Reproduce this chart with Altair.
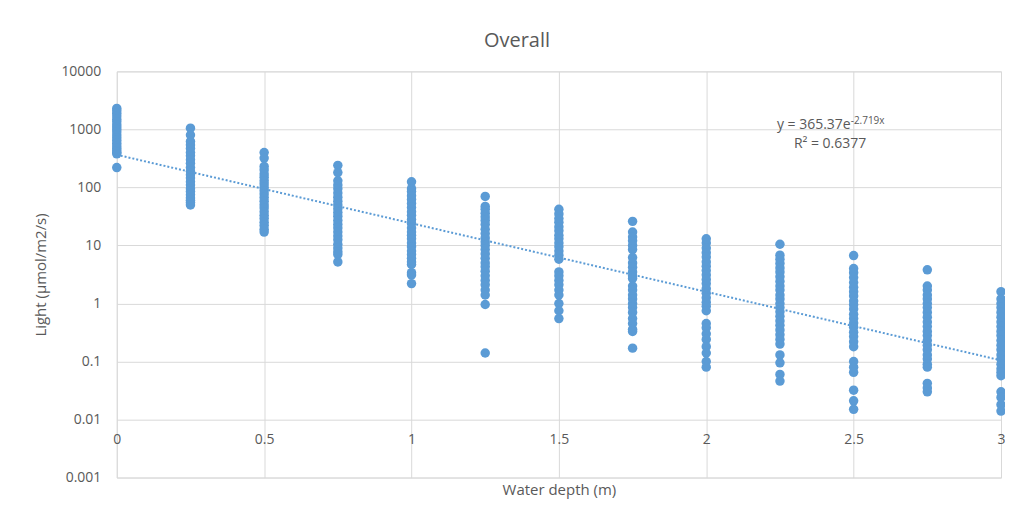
import altair as alt
import pandas as pd

# ---- data ----
depths = [0, 0.25, 0.5, 0.75, 1, 1.25, 1.5, 1.75, 2, 2.25, 2.5, 2.75, 3]

light_000 = [2300, 2100, 1900, 1700, 1500, 1350, 1200, 1100, 1000, 900, 800, 720,
             650, 580, 520, 470, 430, 400, 380, 220]
light_025 = [1050, 800, 620, 540, 470, 400, 350, 300, 260, 220, 190, 165, 145,
             125, 110, 95, 85, 75, 66, 60, 55, 50]
light_050 = [400, 320, 230, 200, 170, 150, 130, 115, 100, 88, 77, 67, 58, 50,
             44, 38, 33, 29, 25, 22, 19, 17]
light_075 = [240, 180, 130, 110, 95, 80, 68, 58, 50, 43, 37, 32, 27, 23, 20, 17,
             14.5, 12.5, 10.5, 9, 7.8, 7, 5.2]
light_100 = [125, 95, 85, 72, 62, 53, 45, 38, 33, 28, 24, 20, 17, 15, 13, 11,
             9.5, 8, 7, 6, 5.2, 4.7, 3.4, 3.1, 2.2]
light_125 = [70, 47, 42, 36, 31, 27, 23, 19, 16, 13.5, 11.5, 10, 8.5, 7.2, 6, 5,
             4.3, 3.6, 3, 2.5, 2.1, 1.7, 1.4, 0.96, 0.14]
light_150 = [42, 35, 29, 25, 21, 18, 15, 13, 11, 9.5, 8, 6.8, 5.8, 3.5, 3, 2.5,
             2.1, 1.7, 1.4, 1.0, 0.75, 0.55]
light_175 = [26, 17, 14, 12, 10, 8.5, 6.2, 5, 4.2, 3.5, 3, 2.7, 2.0, 1.7, 1.4,
             1.2, 1.0, 0.85, 0.7, 0.55, 0.45, 0.36, 0.33, 0.17]
light_200 = [13, 11, 9, 7.5, 6.3, 5.2, 4.4, 3.7, 3.1, 2.6, 2.2, 1.8, 1.5, 1.25,
             1.05, 0.9, 0.75, 0.45, 0.38, 0.3, 0.24, 0.18, 0.14, 0.1, 0.08]
light_225 = [10.5, 6.8, 5.8, 4.9, 4.1, 3.5, 2.9, 2.4, 2.0, 1.7, 1.4, 1.2, 1.0,
             0.85, 0.72, 0.6, 0.5, 0.42, 0.35, 0.29, 0.24, 0.2, 0.13, 0.095,
             0.06, 0.046]
light_250 = [6.7, 4.0, 3.4, 2.8, 2.3, 1.9, 1.6, 1.35, 1.1, 0.95, 0.8, 0.65, 0.55,
             0.46, 0.39, 0.32, 0.27, 0.22, 0.18, 0.1, 0.08, 0.065, 0.032, 0.021,
             0.015]
light_275 = [3.8, 2.0, 1.7, 1.4, 1.2, 1.0, 0.85, 0.7, 0.58, 0.48, 0.4, 0.33, 0.28,
             0.23, 0.19, 0.16, 0.13, 0.11, 0.09, 0.08, 0.042, 0.035, 0.03]
light_300 = [1.6, 1.2, 1.0, 0.85, 0.7, 0.58, 0.48, 0.4, 0.33, 0.28, 0.23, 0.19,
             0.16, 0.13, 0.11, 0.09, 0.075, 0.065, 0.057, 0.03, 0.024, 0.018,
             0.014]

series = [light_000, light_025, light_050, light_075, light_100, light_125,
          light_150, light_175, light_200, light_225, light_250, light_275,
          light_300]

x_ticks = [0, 0.5, 1, 1.5, 2, 2.5, 3]
y_ticks = [0.001, 0.01, 0.1, 1, 10, 100, 1000, 10000]

# exponential trendline shown in the chart: y = 365.37 e^(-2.719x)
TREND_A = 365.37
TREND_B = -2.719
trend_x = [0, 3]

eq_text = "y = 365.37e"
eq_sup = "-2.719x"
r2_text = "R² = 0.6377"

# ---- build tables ----
rows = []
for d, vals in zip(depths, series):
    for v in vals:
        rows.append({"depth": d, "light": v})
df = pd.DataFrame(rows)
trend_df = pd.DataFrame({"depth": trend_x})

FONT = "Liberation Sans Narrow, Open Sans, sans-serif"
BLUE = "#5B9BD5"
GRAY = "#595959"
GRID = "#D9D9D9"

x_scale = alt.Scale(domain=[0, 3], nice=False, zero=False)
y_scale = alt.Scale(type="log", domain=[0.001, 10000], nice=False)

points = alt.Chart(df).mark_circle(size=90, color=BLUE, opacity=1).encode(
    x=alt.X("depth:Q", scale=x_scale,
            axis=alt.Axis(values=x_ticks, format="~g", title="Water depth (m)",
                          grid=True, gridColor=GRID, domain=False, ticks=False,
                          labelFlush=False,
                          offset=-58, labelPadding=13, titlePadding=36,
                          labelFont=FONT, labelFontSize=14, labelColor=GRAY,
                          titleFont=FONT, titleFontSize=15, titleColor=GRAY,
                          titleFontWeight="normal")),
    y=alt.Y("light:Q", scale=y_scale,
            axis=alt.Axis(values=y_ticks, format="~g",
                          title="Light (µmol/m2/s)",
                          grid=True, gridColor=GRID, domain=False, ticks=False,
                          labelPadding=16, titlePadding=12,
                          labelFont=FONT, labelFontSize=14, labelColor=GRAY,
                          titleFont=FONT, titleFontSize=15, titleColor=GRAY,
                          titleFontWeight="normal")),
)

trend = alt.Chart(trend_df).transform_calculate(
    light=f"{TREND_A} * exp({TREND_B} * datum.depth)"
).mark_line(color=BLUE, strokeDash=[2, 2], strokeWidth=2).encode(
    x="depth:Q", y="light:Q"
)

eq_main = alt.Chart().mark_text(
    text=eq_text, align="right", baseline="middle", font=FONT, fontSize=14,
    color=GRAY
).encode(x=alt.datum(2.49), y=alt.datum(1170))

eq_super = alt.Chart().mark_text(
    text=eq_sup, align="left", baseline="middle", font=FONT, fontSize=10,
    color=GRAY, dy=-4
).encode(x=alt.datum(2.49), y=alt.datum(1170))

r2 = alt.Chart().mark_text(
    text=r2_text, align="center", baseline="middle", font=FONT, fontSize=14,
    color=GRAY
).encode(x=alt.datum(2.42), y=alt.datum(560))

chart = alt.layer(points, trend, eq_main, eq_super, r2).properties(
    width=886,
    height=407,
    autosize=alt.AutoSizeParams(type="none"),
    padding={"left": 109, "top": 63, "right": 4, "bottom": 28},
    title=alt.TitleParams("Overall", anchor="middle", dx=-42, offset=13,
                          font=FONT, fontSize=20, color=GRAY,
                          fontWeight="normal"),
).configure_view(strokeWidth=0).configure(background="white")

chart.save("out.html", embed_options={"renderer": "svg", "actions": False})
